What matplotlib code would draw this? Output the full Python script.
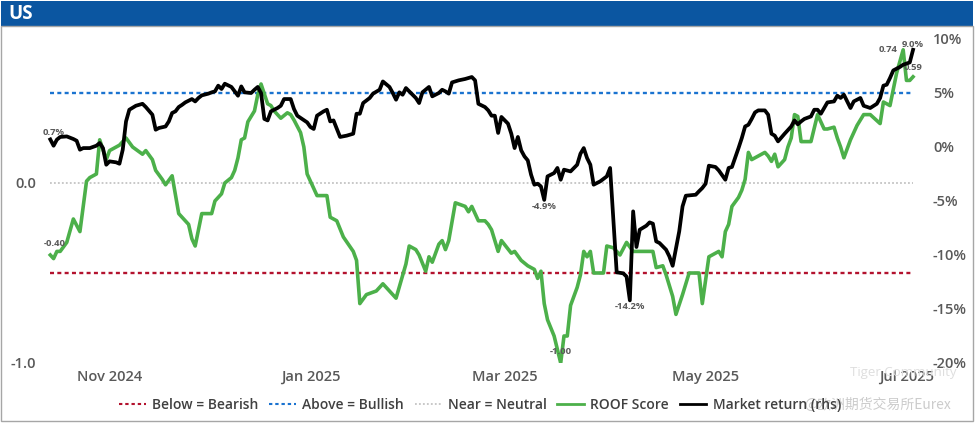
import matplotlib
matplotlib.use("Agg")
import matplotlib.pyplot as plt
from matplotlib.patches import Rectangle
from matplotlib.lines import Line2D
import pandas as pd

# ---------------- data ----------------
market_dates = [
    "2024-10-14", "2024-10-15", "2024-10-16", "2024-10-17", "2024-10-19", "2024-10-21", "2024-10-22",
    "2024-10-23", "2024-10-24", "2024-10-26", "2024-10-28", "2024-10-29", "2024-10-30", "2024-10-31",
    "2024-11-01", "2024-11-03", "2024-11-04", "2024-11-05", "2024-11-06", "2024-11-07", "2024-11-09",
    "2024-11-11", "2024-11-12", "2024-11-14", "2024-11-15", "2024-11-16", "2024-11-18", "2024-11-19",
    "2024-11-20", "2024-11-21", "2024-11-22", "2024-11-23", "2024-11-24", "2024-11-26", "2024-11-27",
    "2024-11-28", "2024-11-29", "2024-12-01", "2024-12-02", "2024-12-03", "2024-12-04", "2024-12-05",
    "2024-12-06", "2024-12-08", "2024-12-09", "2024-12-10", "2024-12-11", "2024-12-12", "2024-12-14",
    "2024-12-15", "2024-12-16", "2024-12-17", "2024-12-18", "2024-12-19", "2024-12-20", "2024-12-22",
    "2024-12-23", "2024-12-24", "2024-12-26", "2024-12-27", "2024-12-28", "2024-12-31", "2025-01-01",
    "2025-01-02", "2025-01-03", "2025-01-05", "2025-01-06", "2025-01-07", "2025-01-08", "2025-01-10",
    "2025-01-12", "2025-01-14", "2025-01-15", "2025-01-16", "2025-01-17", "2025-01-19", "2025-01-20",
    "2025-01-22", "2025-01-23", "2025-01-25", "2025-01-26", "2025-01-27", "2025-01-28", "2025-01-29",
    "2025-01-30", "2025-02-01", "2025-02-02", "2025-02-03", "2025-02-04", "2025-02-06", "2025-02-07",
    "2025-02-09", "2025-02-10", "2025-02-11", "2025-02-12", "2025-02-13", "2025-02-15", "2025-02-17",
    "2025-02-19", "2025-02-20", "2025-02-21", "2025-02-23", "2025-02-24", "2025-02-25", "2025-02-26",
    "2025-02-27", "2025-02-28", "2025-03-02", "2025-03-03", "2025-03-04", "2025-03-05", "2025-03-06",
    "2025-03-07", "2025-03-08", "2025-03-09", "2025-03-10", "2025-03-11", "2025-03-12", "2025-03-13",
    "2025-03-14", "2025-03-16", "2025-03-17", "2025-03-18", "2025-03-19", "2025-03-21", "2025-03-23",
    "2025-03-24", "2025-03-25", "2025-03-26", "2025-03-27", "2025-03-28", "2025-03-30", "2025-04-01",
    "2025-04-02", "2025-04-03", "2025-04-04", "2025-04-06", "2025-04-07", "2025-04-08", "2025-04-09",
    "2025-04-10", "2025-04-11", "2025-04-13", "2025-04-14", "2025-04-15", "2025-04-16", "2025-04-17",
    "2025-04-19", "2025-04-20", "2025-04-21", "2025-04-23", "2025-04-24", "2025-04-25", "2025-04-28",
    "2025-04-29", "2025-04-30", "2025-05-01", "2025-05-02", "2025-05-04", "2025-05-05", "2025-05-07",
    "2025-05-08", "2025-05-09", "2025-05-11", "2025-05-12", "2025-05-13", "2025-05-14", "2025-05-15",
    "2025-05-16", "2025-05-17", "2025-05-19", "2025-05-20", "2025-05-21", "2025-05-22", "2025-05-23",
    "2025-05-25", "2025-05-27", "2025-05-28", "2025-05-29", "2025-05-30", "2025-05-31", "2025-06-02",
    "2025-06-03", "2025-06-04", "2025-06-05", "2025-06-07", "2025-06-09", "2025-06-10", "2025-06-11",
    "2025-06-12", "2025-06-14", "2025-06-15", "2025-06-17", "2025-06-18", "2025-06-20", "2025-06-22",
    "2025-06-23", "2025-06-24", "2025-06-25", "2025-06-26", "2025-06-27", "2025-06-29", "2025-06-30",
    "2025-07-02", "2025-07-03",
]
market_return = [  # percent
    0.70, 0.12, 0.68, 0.93, 0.98, 0.74, 0.58,
    -0.25, -0.10, -0.10, 0.12, 0.37, -0.10, -1.64,
    -1.33, -1.42, -1.55, -0.25, 2.37, 3.45, 3.82,
    4.00, 3.70, 2.99, 1.60, 1.76, 1.90, 2.37,
    3.15, 3.30, 3.70, 3.90, 4.13, 4.44, 4.22,
    4.54, 4.78, 4.94, 5.06, 5.15, 5.68, 5.37,
    5.86, 5.56, 5.15, 4.75, 5.61, 5.06, 5.00,
    5.30, 5.56, 5.00, 2.60, 2.46, 3.30, 3.61,
    3.82, 4.44, 4.44, 3.52, 2.90, 2.28, 1.85,
    1.67, 2.90, 3.30, 3.45, 2.37, 2.46, 0.93,
    1.05, 1.23, 3.08, 3.08, 4.07, 4.54, 4.94,
    5.30, 6.07, 5.56, 5.00, 4.38, 5.06, 4.84,
    5.46, 4.84, 4.54, 4.07, 5.06, 5.56, 4.69,
    5.00, 5.30, 5.15, 4.94, 5.98, 6.17, 6.30,
    6.48, 6.17, 4.00, 3.70, 3.39, 2.90, 2.90,
    1.30, 2.78, 2.16, 1.23, -0.10, 0.93, -0.31,
    -0.87, -1.24, -2.56, -3.49, -3.40, -3.65, -4.90,
    -2.72, -2.41, -1.94, -3.03, -2.10, -2.26, -1.64,
    -0.62, -0.10, -1.02, -1.64, -3.49, -3.18, -2.72,
    -1.94, -6.73, -11.60, -11.70, -12.00, -14.20, -5.96,
    -9.26, -7.66, -7.29, -6.98, -7.10, -8.74, -8.89,
    -9.51, -10.13, -11.00, -7.80, -5.50, -4.51, -4.42,
    -4.10, -3.80, -3.40, -1.73, -1.85, -2.17, -3.03,
    -1.94, -1.85, -0.10, 0.83, 1.90, 2.06, 2.60,
    3.20, 3.39, 3.39, 2.99, 1.23, 1.05, 0.52,
    1.23, 1.90, 2.46, 2.10, 2.37, 2.60, 2.83,
    3.45, 3.45, 3.08, 4.13, 4.22, 4.75, 4.54,
    4.84, 3.61, 4.22, 4.54, 3.82, 3.61, 4.00,
    4.54, 5.68, 5.77, 6.39, 7.09, 7.41, 7.62,
    7.83, 9.00,
]

roof_dates = [
    "2024-10-14", "2024-10-15", "2024-10-16", "2024-10-17", "2024-10-19", "2024-10-21", "2024-10-23",
    "2024-10-25", "2024-10-26", "2024-10-28", "2024-10-29", "2024-10-31", "2024-11-01", "2024-11-04",
    "2024-11-06", "2024-11-08", "2024-11-11", "2024-11-12", "2024-11-14", "2024-11-15", "2024-11-17",
    "2024-11-18", "2024-11-20", "2024-11-22", "2024-11-24", "2024-11-25", "2024-11-26", "2024-11-27",
    "2024-11-29", "2024-12-02", "2024-12-03", "2024-12-05", "2024-12-06", "2024-12-08", "2024-12-09",
    "2024-12-10", "2024-12-11", "2024-12-12", "2024-12-13", "2024-12-15", "2024-12-16", "2024-12-17",
    "2024-12-19", "2024-12-20", "2024-12-21", "2024-12-23", "2024-12-25", "2024-12-26", "2024-12-27",
    "2024-12-29", "2024-12-30", "2024-12-31", "2025-01-03", "2025-01-06", "2025-01-07", "2025-01-09",
    "2025-01-11", "2025-01-14", "2025-01-15", "2025-01-16", "2025-01-18", "2025-01-21", "2025-01-23",
    "2025-01-27", "2025-01-30", "2025-01-31", "2025-02-02", "2025-02-03", "2025-02-05", "2025-02-06",
    "2025-02-07", "2025-02-09", "2025-02-10", "2025-02-11", "2025-02-12", "2025-02-14", "2025-02-17",
    "2025-02-18", "2025-02-19", "2025-02-21", "2025-02-23", "2025-02-24", "2025-02-25", "2025-02-27",
    "2025-02-28", "2025-03-03", "2025-03-04", "2025-03-06", "2025-03-08", "2025-03-10", "2025-03-11",
    "2025-03-12", "2025-03-13", "2025-03-14", "2025-03-16", "2025-03-18", "2025-03-19", "2025-03-20",
    "2025-03-21", "2025-03-23", "2025-03-24", "2025-03-25", "2025-03-26", "2025-03-27", "2025-03-28",
    "2025-03-31", "2025-04-01", "2025-04-03", "2025-04-05", "2025-04-07", "2025-04-09", "2025-04-11",
    "2025-04-15", "2025-04-16", "2025-04-18", "2025-04-19", "2025-04-21", "2025-04-22", "2025-04-24",
    "2025-04-26", "2025-04-29", "2025-04-30", "2025-05-02", "2025-05-04", "2025-05-05", "2025-05-06",
    "2025-05-07", "2025-05-08", "2025-05-09", "2025-05-11", "2025-05-12", "2025-05-13", "2025-05-14",
    "2025-05-15", "2025-05-17", "2025-05-19", "2025-05-20", "2025-05-21", "2025-05-22", "2025-05-23",
    "2025-05-25", "2025-05-26", "2025-05-27", "2025-05-28", "2025-05-29", "2025-05-30", "2025-06-02",
    "2025-06-04", "2025-06-06", "2025-06-07", "2025-06-09", "2025-06-10", "2025-06-11", "2025-06-12",
    "2025-06-14", "2025-06-16", "2025-06-18", "2025-06-20", "2025-06-23", "2025-06-24", "2025-06-26",
    "2025-06-28", "2025-06-30", "2025-07-01", "2025-07-02", "2025-07-03",
]
roof_score = [
    -0.40, -0.42, -0.38, -0.38, -0.33, -0.20, -0.27,
    0.01, 0.03, 0.05, 0.24, 0.13, 0.18, 0.21,
    0.25, 0.20, 0.16, 0.18, 0.13, 0.07, 0.02,
    -0.01, 0.04, -0.17, -0.21, -0.23, -0.31, -0.35,
    -0.17, -0.17, -0.10, -0.06, 0.00, 0.03, 0.07,
    0.14, 0.24, 0.25, 0.34, 0.40, 0.49, 0.55,
    0.44, 0.43, 0.40, 0.36, 0.39, 0.38, 0.35,
    0.28, 0.20, 0.05, -0.07, -0.07, -0.19, -0.21,
    -0.30, -0.38, -0.43, -0.67, -0.62, -0.60, -0.56,
    -0.64, -0.45, -0.35, -0.37, -0.40, -0.49, -0.41,
    -0.44, -0.34, -0.32, -0.37, -0.32, -0.11, -0.13,
    -0.16, -0.13, -0.21, -0.21, -0.23, -0.26, -0.38,
    -0.32, -0.39, -0.38, -0.43, -0.46, -0.48, -0.53,
    -0.49, -0.67, -0.76, -0.85, -1.00, -0.85, -0.85,
    -0.68, -0.58, -0.51, -0.38, -0.41, -0.38, -0.50,
    -0.50, -0.35, -0.36, -0.40, -0.33, -0.38, -0.38,
    -0.38, -0.47, -0.46, -0.51, -0.63, -0.73, -0.62,
    -0.50, -0.50, -0.67, -0.41, -0.39, -0.38, -0.41,
    -0.27, -0.23, -0.13, -0.08, -0.04, 0.02, 0.17,
    0.13, 0.15, 0.17, 0.15, 0.12, 0.16, 0.09,
    0.13, 0.20, 0.25, 0.38, 0.37, 0.23, 0.23,
    0.38, 0.30, 0.30, 0.31, 0.25, 0.20, 0.14,
    0.24, 0.32, 0.38, 0.38, 0.33, 0.45, 0.43,
    0.61, 0.74, 0.57, 0.57, 0.59,
]

thresholds = {"Below = Bearish": -0.5, "Above = Bullish": 0.5, "Near = Neutral": 0.0}

x_ticks = ["2024-11-01", "2025-01-01", "2025-03-01", "2025-05-01", "2025-07-01"]
x_ticklabels = ["Nov 2024", "Jan 2025", "Mar 2025", "May 2025", "Jul 2025"]
left_ticks = [-1.0, 0.0]
right_ticks = [-20, -15, -10, -5, 0, 5, 10]

# ---------------- figure ----------------
W, H = 975, 423
fig = plt.figure(figsize=(W / 100, H / 100), dpi=100)
fig.patch.set_facecolor("white")

FONT = ["Open Sans", "DejaVu Sans"]
TICKC = "#595959"

# title bar and frame
fig.add_artist(Rectangle((1 / W, 1 - 27 / H), 972 / W, 26 / H, transform=fig.transFigure,
                         facecolor="#0b56a1", edgecolor="none", zorder=0))
fig.add_artist(Rectangle((1 / W, 2 / H), 972 / W, (H - 28) / H, transform=fig.transFigure,
                         facecolor="none", edgecolor="#a6a6a6", lw=1.0, zorder=0))
fig.text(8 / W, 1 - 14 / H, "US", color="white", fontsize=13.5, fontweight="bold",
         family=FONT, va="center", ha="left")

ax = fig.add_axes([47 / W, 60 / H, 870 / W, 324 / H])
ax2 = ax.twinx()

mdt = pd.to_datetime(market_dates)
rdt = pd.to_datetime(roof_dates)
x0, x1 = rdt[0], rdt[-1]

# reference lines
ax.plot([x0, x1], [thresholds["Below = Bearish"]] * 2, color="#b3122e", lw=1.7,
        ls=(0, (1.7, 1.4)), label="Below = Bearish", zorder=2)
ax.plot([x0, x1], [thresholds["Above = Bullish"]] * 2, color="#1a73d0", lw=1.7,
        ls=(0, (1.7, 1.4)), label="Above = Bullish", zorder=2)
ax.plot([x0, x1], [thresholds["Near = Neutral"]] * 2, color="#c4c4c4", lw=1.3,
        ls=(0, (1.0, 1.2)), label="Near = Neutral", zorder=2)

ax.plot(rdt, roof_score, color="#4cb04a", lw=2.6, solid_joinstyle="round",
        label="ROOF Score", zorder=3)
ax2.plot(mdt, [v / 100 for v in market_return], color="black", lw=2.7,
         solid_joinstyle="round", label="Market return (rhs)", zorder=4)

ax.set_ylim(-1.0, 0.8)
ax2.set_ylim(-0.20, 0.10)
ax.set_xlim(x0 - pd.Timedelta(days=1), x1 + pd.Timedelta(days=1.2))

ax.set_xticks(pd.to_datetime(x_ticks))
ax.set_xticklabels(x_ticklabels)
ax.set_yticks(left_ticks)
ax.set_yticklabels([f"{v:.1f}" for v in left_ticks])
ax2.set_yticks([v / 100 for v in right_ticks])
ax2.set_yticklabels([f"{v}%" for v in right_ticks])

for a in (ax, ax2):
    for s in a.spines.values():
        s.set_visible(False)
    a.tick_params(length=0, colors=TICKC)
ax.tick_params(axis="x", pad=5)
ax.tick_params(axis="y", pad=8)
ax2.tick_params(axis="y", pad=11.5)
for lab in ax.get_xticklabels() + ax.get_yticklabels() + ax2.get_yticklabels():
    lab.set_fontfamily(FONT)
    lab.set_fontsize(10.5)
    lab.set_fontweight("semibold")
    lab.set_color(TICKC)

# data labels
lab_kw = dict(textcoords="offset points", fontsize=6.8, color="#595959",
              fontweight="bold", family=FONT, ha="center", va="center", zorder=6)
ax2.annotate(f"{market_return[0]:.1f}%", (mdt[0], market_return[0] / 100), xytext=(2.5, 5), **lab_kw)
ax.annotate(f"{roof_score[0]:.2f}", (rdt[0], roof_score[0]), xytext=(3, 8), **lab_kw)
i_m1 = market_return.index(min(market_return[:130]))
ax2.annotate(f"{market_return[i_m1]:.1f}%", (mdt[i_m1], market_return[i_m1] / 100), xytext=(0, -4.5), **lab_kw)
i_r = roof_score.index(min(roof_score))
ax.annotate(f"{roof_score[i_r]:.2f}", (rdt[i_r], roof_score[i_r]), xytext=(0, 8), **lab_kw)
i_m = market_return.index(min(market_return))
ax2.annotate(f"{market_return[i_m]:.1f}%", (mdt[i_m], market_return[i_m] / 100), xytext=(0, -4.5), **lab_kw)
i_rmax = roof_score.index(max(roof_score))
ax.annotate(f"{roof_score[i_rmax]:.2f}", (rdt[i_rmax], roof_score[i_rmax]), xytext=(-11, 0.5), **lab_kw)
ax2.annotate(f"{market_return[-1]:.1f}%", (mdt[-1], market_return[-1] / 100), xytext=(0, 4), **lab_kw)
ax.annotate(f"{roof_score[-1]:.2f}", (rdt[-1], roof_score[-1]), xytext=(0, 7), **lab_kw)

# legend
handles = [
    Line2D([], [], color="#b3122e", lw=1.5, ls=(0, (1.6, 1.4))),
    Line2D([], [], color="#1a73d0", lw=1.5, ls=(0, (1.6, 1.4))),
    Line2D([], [], color="#c4c4c4", lw=1.3, ls=(0, (1.0, 1.2))),
    Line2D([], [], color="#4cb04a", lw=2.0),
    Line2D([], [], color="black", lw=2.0),
]
labels = list(thresholds.keys()) + ["ROOF Score", "Market return (rhs)"]
leg = fig.legend(handles, labels, loc="center", bbox_to_anchor=(480 / W, 1 - 405 / H),
                 ncol=5, frameon=False, handlelength=1.9, handletextpad=0.45,
                 columnspacing=0.8, prop={"family": FONT, "size": 10, "weight": "semibold"})
for t in leg.get_texts():
    t.set_color("#404040")

# watermarks (present on the reference image)
fig.text(903 / W, 1 - 372 / H, "Tiger Community", color="#dedede", fontsize=9.5,
         family=FONT, ha="center", va="center", zorder=0)
fig.text(878 / W, 1 - 405 / H, "@欧洲期货交易所Eurex", color="#cccccc", fontsize=10,
         family=["Noto Sans CJK SC", "DejaVu Sans"], ha="center", va="center", zorder=0)

fig.savefig("out.png", dpi=100)
